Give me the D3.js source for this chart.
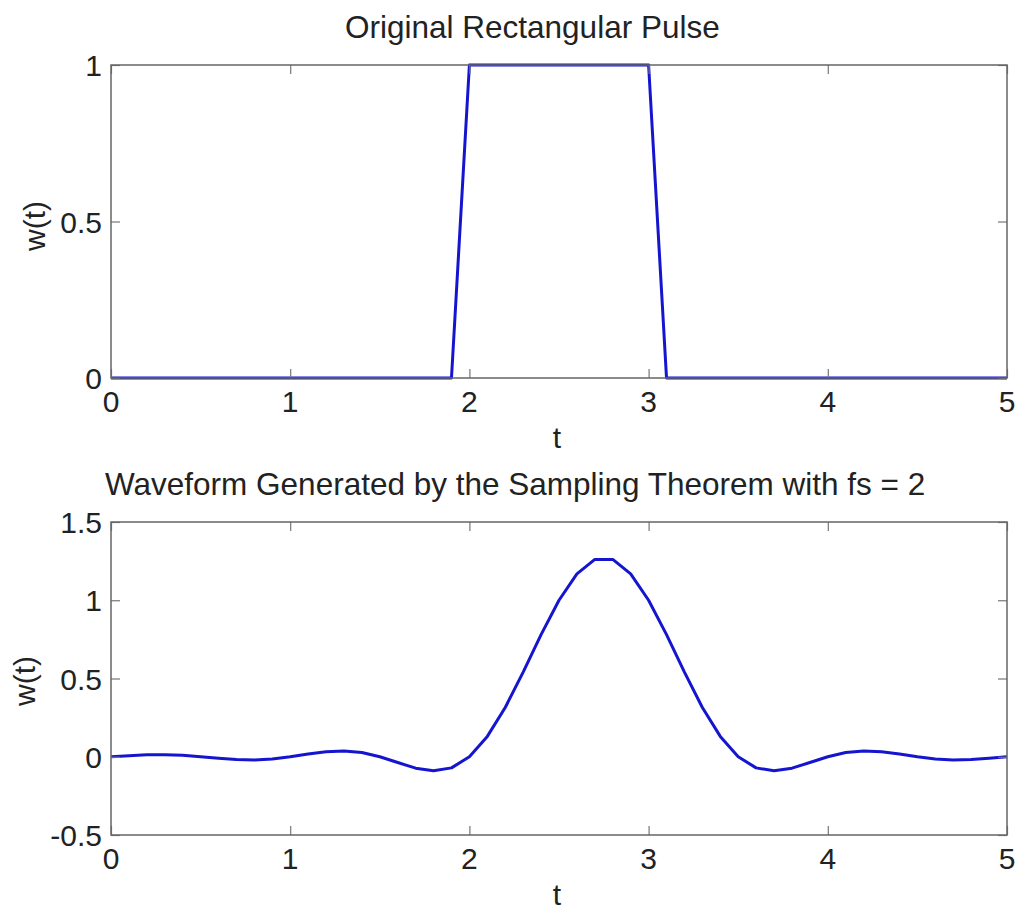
<!DOCTYPE html>
<html>
<head>
<meta charset="utf-8">
<script src="https://cdn.jsdelivr.net/npm/d3@7"></script>
<style>
  body { margin: 0; background: #fff; }
  text { font-family: 'Liberation Sans', Arial, sans-serif; fill: #222; }
</style>
</head>
<body>
<svg id="drawing_region"></svg>
<script>
// original pulse breakpoints
var pulseT = [0, 1.9, 2.0, 3.0, 3.1, 5];
var pulseW = [0, 0, 1, 1, 0, 0];

// reconstructed waveform, read at t = 0, 0.1, ... 5
var waveT = [0, 0.1, 0.2, 0.3, 0.4, 0.5, 0.6, 0.7, 0.8, 0.9,
    1.0, 1.1, 1.2, 1.3, 1.4, 1.5, 1.6, 1.7, 1.8, 1.9,
    2.0, 2.1, 2.2, 2.3, 2.4, 2.5, 2.6, 2.7, 2.8, 2.9,
    3.0, 3.1, 3.2, 3.3, 3.4, 3.5, 3.6, 3.7, 3.8, 3.9,
    4.0, 4.1, 4.2, 4.3, 4.4, 4.5, 4.6, 4.7, 4.8, 4.9, 5.0];
var waveW = [0, 0.007, 0.012, 0.013, 0.009, 0, -0.010, -0.018, -0.020, -0.014,
    0, 0.018, 0.032, 0.037, 0.027, 0, -0.037, -0.073, -0.090, -0.071,
    0, 0.130, 0.315, 0.541, 0.780, 1.0, 1.169, 1.261, 1.261, 1.169,
    1.0, 0.780, 0.541, 0.315, 0.130, 0, -0.071, -0.090, -0.073, -0.037,
    0, 0.027, 0.037, 0.032, 0.018, 0, -0.014, -0.020, -0.018, -0.010, 0];

var xTicks = [0, 1, 2, 3, 4, 5];
var yTicksTop = [0, 0.5, 1];
var yTicksBottom = [-0.5, 0, 0.5, 1, 1.5];

var svg = d3.select('#drawing_region')
    .attr('width', 1015)
    .attr('height', 910);

function drawPanel(cfg) {
    var x = d3.scaleLinear().domain([0, 5]).range([111, 1007]);
    var y = d3.scaleLinear().domain(cfg.yDomain).range([cfg.bottom, cfg.top]);
    var g = svg.append('g');

    // data line
    var pts = cfg.t.map((t, i) => [t, cfg.w[i]]);
    g.append('path')
        .datum(pts)
        .attr('d', d3.line().x(d => x(d[0])).y(d => y(d[1])))
        .attr('fill', 'none')
        .attr('stroke', '#1515d0')
        .attr('stroke-width', 3)
        .attr('stroke-linejoin', 'round');

    // inward ticks on all four sides
    var tl = 9;
    g.append('g').attr('transform', `translate(0,${cfg.bottom})`)
        .call(d3.axisTop(x).tickValues(xTicks).tickSize(tl).tickFormat(''));
    g.append('g').attr('transform', `translate(0,${cfg.top})`)
        .call(d3.axisBottom(x).tickValues(xTicks).tickSize(tl).tickFormat(''));
    g.append('g').attr('transform', 'translate(111,0)')
        .call(d3.axisRight(y).tickValues(cfg.yTicks).tickSize(tl).tickFormat(''));
    g.append('g').attr('transform', 'translate(1007,0)')
        .call(d3.axisLeft(y).tickValues(cfg.yTicks).tickSize(tl).tickFormat(''));
    g.selectAll('.domain').remove();
    g.selectAll('.tick line').attr('stroke', '#777').attr('stroke-width', 1.2);

    // box
    g.append('rect')
        .attr('x', 111).attr('y', cfg.top)
        .attr('width', 1007 - 111).attr('height', cfg.bottom - cfg.top)
        .attr('fill', 'none')
        .attr('stroke', '#666')
        .attr('stroke-width', 1.5);

    // tick labels
    g.selectAll('.xlab')
        .data(xTicks)
        .join('text')
        .attr('x', d => x(d))
        .attr('y', cfg.bottom + 34)
        .attr('text-anchor', 'middle')
        .attr('font-size', 30)
        .text(d => d);
    g.selectAll('.ylab')
        .data(cfg.yTicks)
        .join('text')
        .attr('x', 102)
        .attr('y', d => y(d) + 11)
        .attr('text-anchor', 'end')
        .attr('font-size', 30)
        .text(d => d);

    // axis labels and title
    g.append('text')
        .attr('x', 557).attr('y', cfg.bottom + 70)
        .attr('text-anchor', 'middle')
        .attr('font-size', 30)
        .text('t');
    g.append('text')
        .attr('transform', `translate(${cfg.ylabX},${cfg.ylabY}) rotate(-90)`)
        .attr('text-anchor', 'middle')
        .attr('font-size', 30)
        .text('w(t)');
    g.append('text')
        .attr('x', cfg.titleX).attr('y', cfg.titleY)
        .attr('font-size', 31.5)
        .text(cfg.title);
}

drawPanel({
    t: pulseT, w: pulseW,
    yDomain: [0, 1], yTicks: yTicksTop,
    top: 65, bottom: 378,
    ylabX: 45, ylabY: 226,
    title: 'Original Rectangular Pulse', titleX: 345, titleY: 38
});

drawPanel({
    t: waveT, w: waveW,
    yDomain: [-0.5, 1.5], yTicks: yTicksBottom,
    top: 522, bottom: 835,
    ylabX: 35, ylabY: 681,
    title: 'Waveform Generated by the Sampling Theorem with fs = 2', titleX: 105, titleY: 495
});
</script>
</body>
</html>
